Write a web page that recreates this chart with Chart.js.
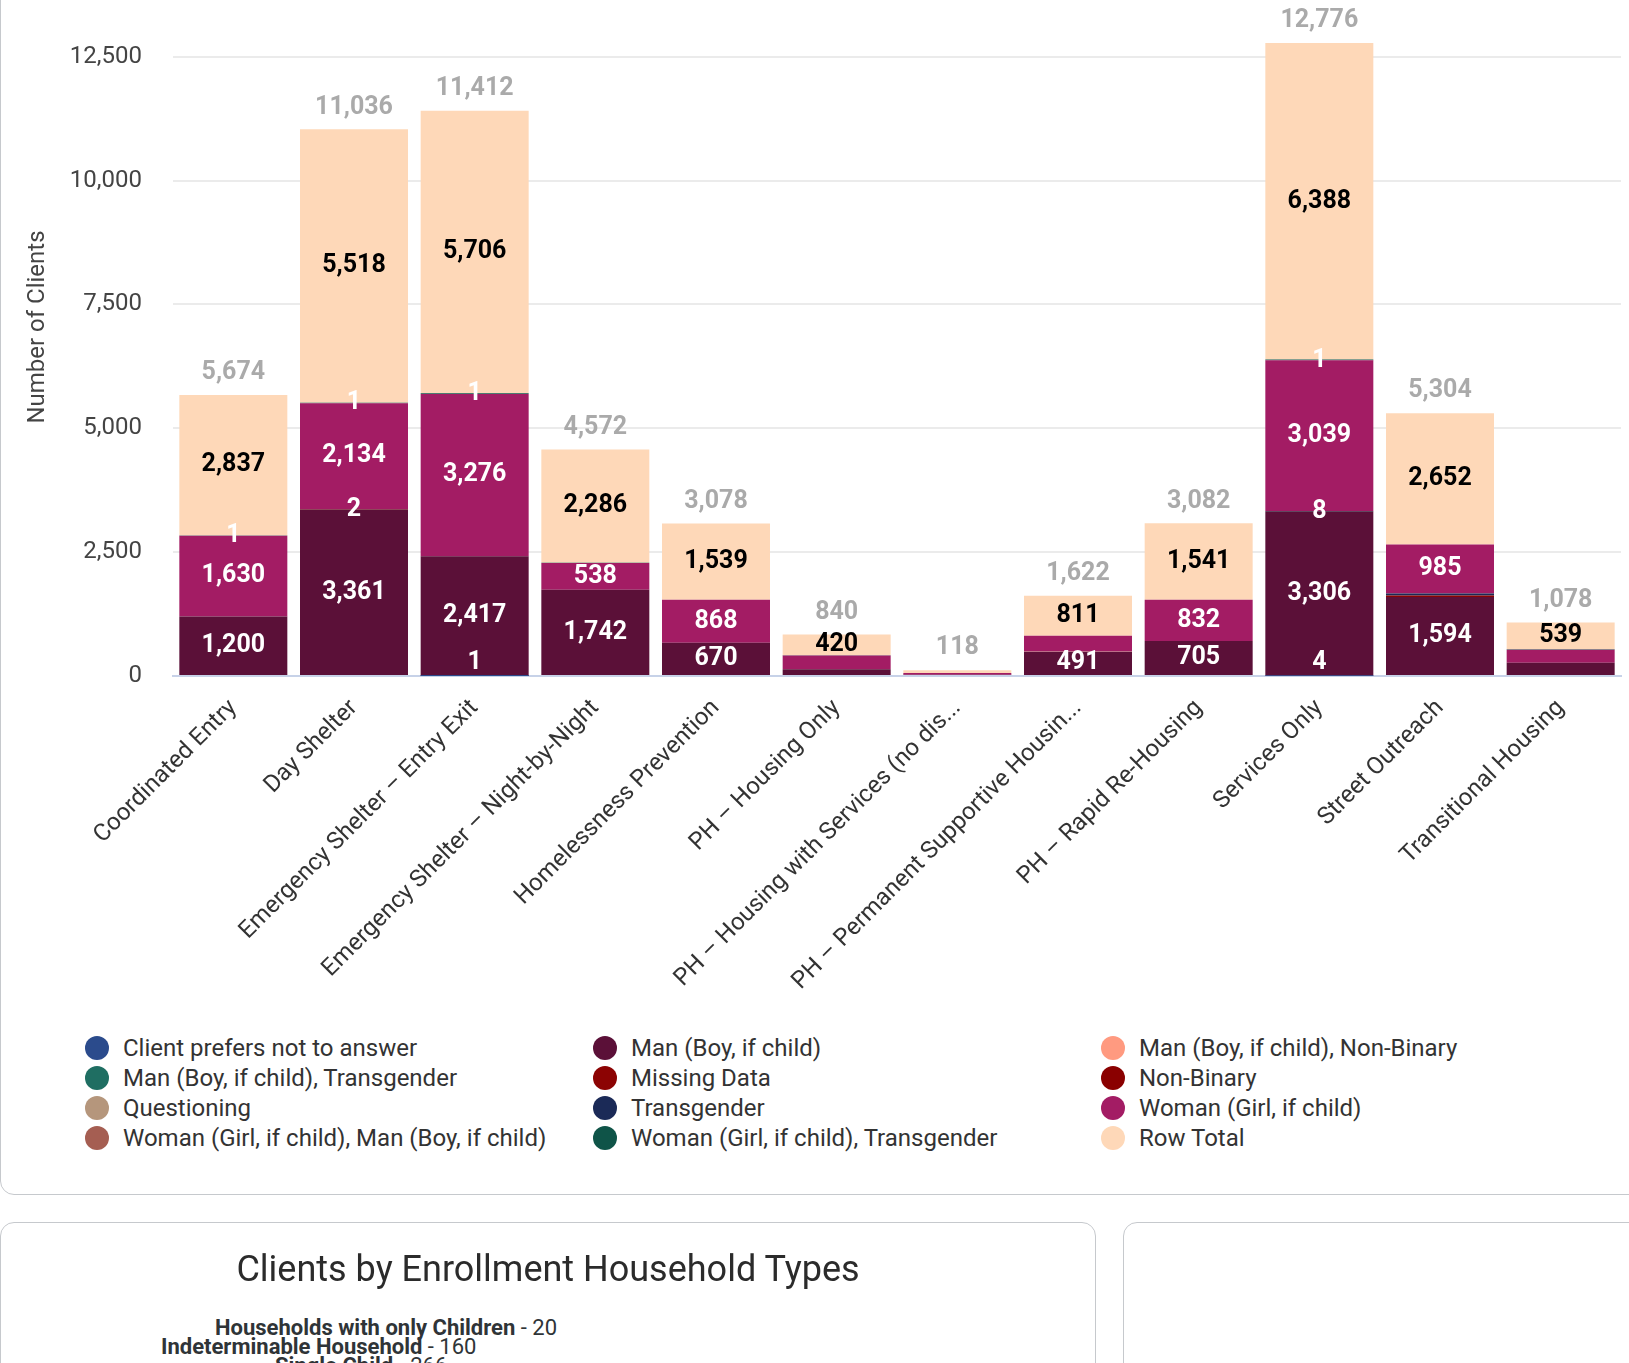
<!DOCTYPE html>
<html>
<head>
<meta charset="utf-8">
<script src="https://cdn.jsdelivr.net/npm/chart.js@4.4.1/dist/chart.umd.min.js"></script>
<style>
  html, body { margin: 0; padding: 0; background: #fff; width: 1629px; height: 1363px; overflow: hidden; font-family: Roboto, sans-serif; }
  .card { position: absolute; border: 1.5px solid #c6c9cd; border-radius: 14px; background: #fff; box-sizing: border-box; }
  #mainCard { left: 0; top: -40px; width: 1800px; height: 1235px; }
  #leftCard { left: 0; top: 1222px; width: 1096px; height: 300px; }
  #rightCard { left: 1123px; top: 1222px; width: 600px; height: 300px; }
  #chart { position: absolute; left: 0; top: 0; }
  .dot { position: absolute; width: 24px; height: 24px; border-radius: 50%; }
  .item { position: absolute; font-size: 24px; color: #333; line-height: 30px; white-space: nowrap; }
  #hhTitle { position: absolute; left: 0; width: 1096px; top: 1248px; text-align: center; font-size: 36px; line-height: 42px; color: #2b2b2b; }
  .pieLabel { position: absolute; font-size: 22px; color: #2f3437; white-space: nowrap; line-height: 22px; }
  .pieLabel b { font-weight: bold; }
</style>
</head>
<body>
<div class="card" id="mainCard"></div>
<div class="card" id="leftCard"></div>
<div class="card" id="rightCard"></div>
<canvas id="chart" width="1629" height="1000"></canvas>
<div id="legend"></div>
<div id="hhTitle">Clients by Enrollment Household Types</div>
<div id="pieLabels"></div>
<script>
// categories (project types)
const categories = [
    'Coordinated Entry',
    'Day Shelter',
    'Emergency Shelter – Entry Exit',
    'Emergency Shelter – Night-by-Night',
    'Homelessness Prevention',
    'PH – Housing Only',
    'PH – Housing with Services (no dis...',
    'PH – Permanent Supportive Housin...',
    'PH – Rapid Re-Housing',
    'Services Only',
    'Street Outreach',
    'Transitional Housing'
];

// gender series, one value per category
const clientPrefersNot   = [0, 0, 1, 0, 0, 0, 0, 0, 0, 4, 0, 0];
const man                = [1200, 3361, 2417, 1742, 670, 135, 26, 491, 705, 3306, 1594, 268];
const manNonBinary       = [0, 0, 0, 0, 1, 0, 0, 4, 4, 0, 0, 0];
const manTransgender     = [0, 2, 0, 0, 0, 0, 0, 0, 0, 0, 0, 0];
const missingData        = [0, 10, 0, 0, 0, 0, 0, 0, 0, 8, 30, 0];
const nonBinary          = [0, 0, 0, 0, 0, 0, 0, 0, 0, 0, 0, 0];
const questioning        = [0, 0, 0, 0, 0, 0, 0, 0, 0, 0, 0, 0];
const transgender        = [0, 0, 0, 0, 0, 0, 0, 0, 0, 15, 43, 0];
const woman              = [1630, 2134, 3276, 538, 868, 280, 33, 316, 832, 3039, 985, 262];
const womanMan           = [1, 1, 1, 0, 0, 0, 0, 0, 0, 1, 0, 0];
const womanTransgender   = [6, 10, 11, 6, 0, 5, 0, 0, 0, 15, 0, 9];
const rowTotal           = [2837, 5518, 5706, 2286, 1539, 420, 59, 811, 1541, 6388, 2652, 539];

const seriesNames = [
    'Client prefers not to answer', 'Man (Boy, if child)', 'Man (Boy, if child), Non-Binary',
    'Man (Boy, if child), Transgender', 'Missing Data', 'Non-Binary',
    'Questioning', 'Transgender', 'Woman (Girl, if child)',
    'Woman (Girl, if child), Man (Boy, if child)', 'Woman (Girl, if child), Transgender', 'Row Total'
];
const seriesValues = [
    clientPrefersNot, man, manNonBinary, manTransgender, missingData, nonBinary,
    questioning, transgender, woman, womanMan, womanTransgender, rowTotal
];
const seriesColors = [
    '#2b4b8c', '#5b1038', '#ff9a80', '#1f6e62', '#8c0303', '#8a0000',
    '#b5967c', '#1b2a57', '#a31c64', '#a55e52', '#0f5448', '#fed8b8'
];

// y axis tick values
const yTicks = [0, 2500, 5000, 7500, 10000, 12500];

// household type labels (bottom card)
const householdLabels = ['Households with only Children', 'Indeterminable Household', 'Single Child'];
const householdValues = [20, 160, 266];

const fmt = v => v.toLocaleString('en-US');

// labels inside the segments and totals above the bars
const segmentLabels = {
    id: 'segmentLabels',
    afterDatasetsDraw(chart) {
        const { ctx, chartArea } = chart;
        ctx.save();
        ctx.font = 'bold 25px Roboto';
        ctx.textAlign = 'center';
        ctx.textBaseline = 'middle';
        const last = chart.data.datasets.length - 1;
        chart.data.labels.forEach((_, i) => {
            const boxes = [];
            const items = [];
            chart.data.datasets.forEach((ds, d) => {
                const v = ds.data[i];
                if (!v) return;
                const bar = chart.getDatasetMeta(d).data[i];
                const h = bar.base - bar.y;
                const y = Math.min((bar.y + bar.base) / 2, chartArea.bottom - 13);
                items.push({ v, x: bar.x, y, h, color: d === last ? '#000' : '#fff' });
            });
            // first the labels that fit, then the tiny ones if they do not overlap
            const big = items.filter(it => it.h >= 20);
            const tiny = items.filter(it => it.h < 20 && it.v < 10);
            big.concat(tiny).forEach(it => {
                const box = [it.y - 11, it.y + 11];
                if (boxes.some(b => box[0] < b[1] && box[1] > b[0])) return;
                boxes.push(box);
                ctx.fillStyle = it.color;
                ctx.fillText(fmt(it.v), it.x, it.y);
            });
            // stack total
            const total = chart.data.datasets.reduce((s, ds) => s + ds.data[i], 0);
            const topBar = chart.getDatasetMeta(last).data[i];
            ctx.fillStyle = '#aaaaaa';
            ctx.fillText(fmt(total), topBar.x, chart.scales.y.getPixelForValue(total) - 22);
        });
        // y axis title
        ctx.translate(38, 327);
        ctx.rotate(-Math.PI / 2);
        ctx.font = '24px Roboto';
        ctx.fillStyle = '#444';
        ctx.fillText('Number of Clients', 0, 0);
        ctx.restore();
    }
};

const ctx = document.getElementById('chart').getContext('2d');
new Chart(ctx, {
    type: 'bar',
    data: {
        labels: categories,
        datasets: seriesNames.map((name, k) => ({
            label: name,
            data: seriesValues[k],
            backgroundColor: seriesColors[k],
            borderWidth: 0,
            barPercentage: 0.895,
            categoryPercentage: 1
        }))
    },
    options: {
        responsive: false,
        animation: false,
        layout: { padding: { top: 32, right: 8, bottom: 4, left: 0 } },
        plugins: {
            legend: { display: false },
            tooltip: { enabled: false }
        },
        scales: {
            x: {
                stacked: true,
                afterFit: s => { s.height = 320; },
                grid: { display: false },
                border: { display: true, color: '#c7d2e8', width: 2 },
                ticks: {
                    autoSkip: false,
                    minRotation: 45,
                    maxRotation: 45,
                    padding: 10,
                    color: '#333',
                    font: { family: 'Roboto', size: 24 }
                }
            },
            y: {
                stacked: true,
                min: 0,
                max: 13000,
                afterFit: s => { s.width = 173; s.paddingTop = 0; s.paddingBottom = 0; },
                afterBuildTicks: s => { s.ticks = yTicks.map(v => ({ value: v })); },
                grid: { color: '#ebebeb', lineWidth: 2, drawTicks: false },
                border: { display: false },
                ticks: {
                    padding: 31,
                    color: '#444',
                    font: { family: 'Roboto', size: 24 },
                    callback: v => fmt(v)
                }
            }
        }
    },
    plugins: [segmentLabels]
});

// legend in three columns, filled row by row
const legendDiv = document.getElementById('legend');
const colX = [97, 605, 1113];
const rowY = [1048, 1078, 1108, 1138];
seriesNames.forEach((name, k) => {
    const col = k % 3, row = Math.floor(k / 3);
    const dot = document.createElement('div');
    dot.className = 'dot';
    dot.style.left = (colX[col] - 12) + 'px';
    dot.style.top = (rowY[row] - 12) + 'px';
    dot.style.background = seriesColors[k];
    legendDiv.appendChild(dot);
    const item = document.createElement('div');
    item.className = 'item';
    item.style.left = (colX[col] + 26) + 'px';
    item.style.top = (rowY[row] - 15) + 'px';
    item.textContent = name;
    legendDiv.appendChild(item);
});

// household type labels, partly cut by the bottom edge
const pieDiv = document.getElementById('pieLabels');
const pieLeft = [215, 161, 275];
const pieTop = [1317, 1336, 1355];
householdLabels.forEach((name, k) => {
    const el = document.createElement('div');
    el.className = 'pieLabel';
    el.style.left = pieLeft[k] + 'px';
    el.style.top = pieTop[k] + 'px';
    el.innerHTML = '<b>' + name + '</b> - ' + householdValues[k];
    pieDiv.appendChild(el);
});
</script>
</body>
</html>
